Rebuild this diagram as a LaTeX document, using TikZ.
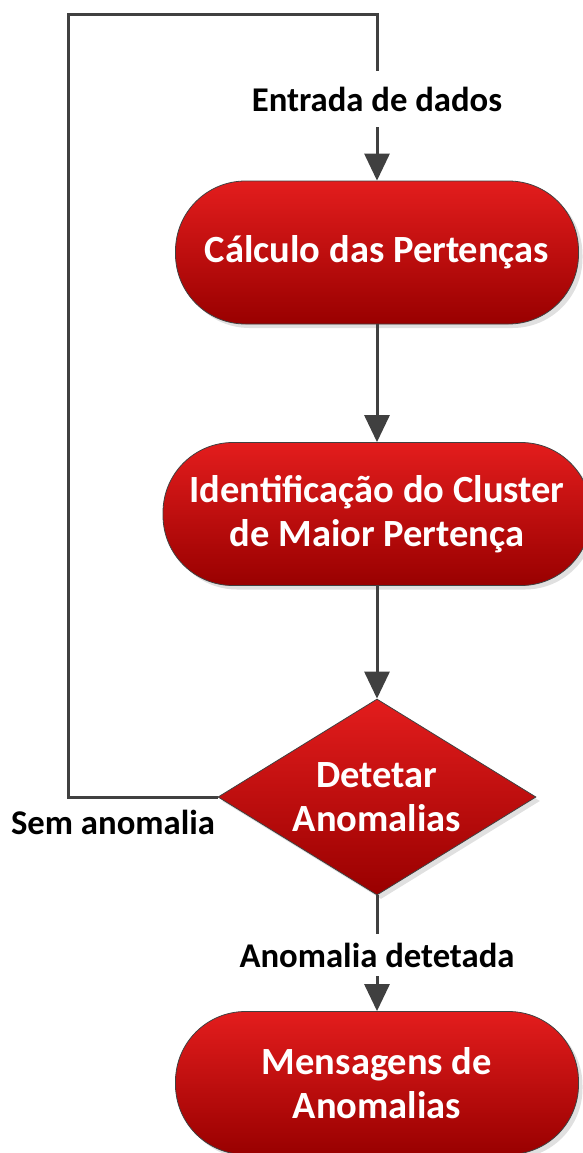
\documentclass[tikz,border=0pt]{standalone}
\usepackage{fontspec}
\setmainfont{Carlito}
\usetikzlibrary{shapes.geometric,shadows,arrows.meta}
\definecolor{redtop}{HTML}{E31D1D}
\definecolor{redbot}{HTML}{990000}
\definecolor{linegray}{HTML}{404040}
\begin{document}
\begin{tikzpicture}[x=1pt,y=1pt,
  boxfill/.style={draw=linegray, line width=0.8pt, top color=redtop, bottom color=redbot,
    text=white, font=\fontsize{38.5}{44}\selectfont\bfseries, align=center,
    drop shadow={shadow xshift=4pt, shadow yshift=-4pt, fill=black, opacity=0.12}},
  proc/.style={boxfill, rounded corners=70pt, minimum height=143pt, inner sep=0pt},
  decision/.style={boxfill, diamond, shape aspect=1.62, minimum width=318pt, minimum height=196pt, inner sep=-6pt},
  lbl/.style={font=\fontsize{34.7}{40}\selectfont\bfseries, text=black, inner xsep=2pt},
  line/.style={draw=linegray, line width=3pt},
  arrow/.style={line, -{Triangle[length=27pt,width=25pt]}}
]
\useasboundingbox (0,0) rectangle (583,-1153);
\fill[white] (0,0) rectangle (583,-1153);

\node[proc, minimum width=403pt] (b1) at (377,-252.5) {Cálculo das Pertenças};
\node[proc, minimum width=428pt] (b2) at (377,-514) {Identificação do Cluster\\de Maior Pertença};
\node[decision] (dia) at (377,-797) {Detetar\\Anomalias};
\node[proc, minimum width=403pt] (b3) at (377,-1083) {Mensagens de\\Anomalias};

\node[lbl, inner ysep=15.5pt] (lblin) at (377,-99) {Entrada de dados};
\node[lbl, inner ysep=8.5pt] (lblout) at (377,-955) {Anomalia detetada};
\node[lbl] (lblno) at (113,-822) {Sem anomalia};

\coordinate (tl) at (68,-15);
\draw[line] (dia.west) -| (tl) -| (lblin.north);
\draw[arrow] (lblin.south) -- (b1.north);
\draw[arrow] (b1.south) -- (b2.north);
\draw[arrow] (b2.south) -- (dia.north);
\draw[line] (dia.south) -- (lblout.north);
\draw[arrow] (lblout.south) -- (b3.north);
\end{tikzpicture}
\end{document}
